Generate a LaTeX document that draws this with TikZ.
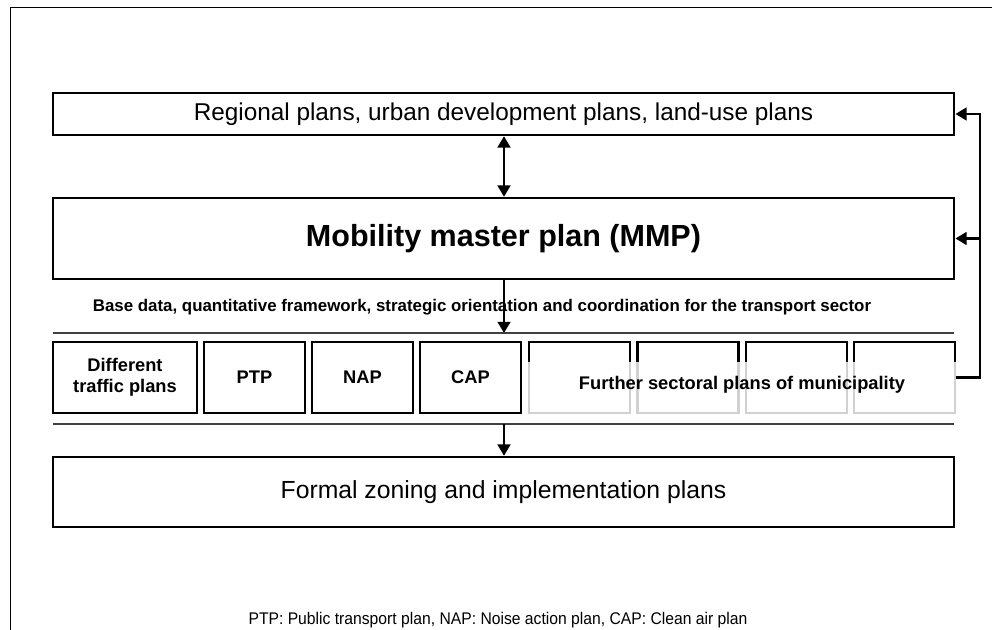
\documentclass[tikz,border=0pt]{standalone}
\usepackage{fontspec}
\setmainfont{Liberation Sans}
\newfontfamily\narrowfont[FakeStretch=0.93]{Liberation Sans}
\usetikzlibrary{arrows.meta}
\begin{document}
\begin{tikzpicture}[x=0.025cm,y=-0.025cm,
  plan/.style={draw, line width=1.8pt, inner sep=0pt, align=center},
  sub/.style={plan, minimum width=2.525cm, minimum height=1.775cm, font=\bfseries\fontsize{13}{15}\selectfont},
  link/.style={line width=1.8pt, -{Triangle[length=8pt,width=9pt]}}]
\useasboundingbox (0,0) rectangle (992,630);
\draw[line width=0.6pt] (10,630) -- (10,7) -- (992,7);
\node[plan, minimum width=22.525cm, minimum height=1.05cm, font=\fontsize{17.3}{20}\selectfont] (regional) at (503.5,114) {Regional plans, urban development plans, land-use plans};
\node[plan, minimum width=22.525cm, minimum height=2.025cm, font=\bfseries\fontsize{21.7}{25}\selectfont] (mmp) at (503.5,238.5) {Mobility master plan (MMP)};
\node[font=\bfseries\fontsize{12}{14}\selectfont] (base) at (482,307) {Base data, quantitative framework, strategic orientation and coordination for the transport sector};
\coordinate (upA) at (53,333);
\coordinate (upB) at (954,333);
\coordinate (loA) at (53,424);
\coordinate (loB) at (954,424);
\draw[line width=1pt, black!75] (upA) -- (upB);
\draw[line width=1pt, black!75] (loA) -- (loB);
\node[sub, minimum width=3.6cm] (traffic) at (125,377.5) {Different\\traffic plans};
\node[sub] (ptp) at (254.5,377.5) {PTP};
\node[sub] (nap) at (362.5,377.5) {NAP};
\node[sub] (cap) at (470.5,377.5) {CAP};
\node[sub] (sec1) at (579.5,377.5) {};
\node[sub] (sec2) at (688,377.5) {};
\node[sub] (sec3) at (796.5,377.5) {};
\node[sub] (sec4) at (904.5,377.5) {};
\node[fill=white, fill opacity=0.82, minimum width=10.875cm, minimum height=1.5cm, inner sep=0pt] (veil) at (742.5,392) {};
\node[font=\bfseries\fontsize{13}{15}\selectfont] (further) at (742,385) {Further sectoral plans of municipality};
\node[plan, minimum width=22.525cm, minimum height=1.75cm, font=\fontsize{17.6}{21}\selectfont] (formal) at (503.5,492) {Formal zoning and implementation plans};
\node[font=\narrowfont\fontsize{12}{14}\selectfont] (note) at (498,620) {PTP: Public transport plan, NAP: Noise action plan, CAP: Clean air plan};
\coordinate (mmpdown) at (504,333);
\coordinate (lodown) at (504,424);
\coordinate (back) at (980,377.5);
\draw[link, {Triangle[length=8pt,width=9pt]}-{Triangle[length=8pt,width=9pt]}] (regional.south -| 504,0) -- (mmp.north -| 504,0);
\draw[link] (mmp.south -| mmpdown) -- (mmpdown);
\draw[link] (lodown) -- (formal.north -| lodown);
\draw[link] (sec4.east) -- (back) -- (back |- regional.east) -- (regional.east);
\draw[link] (back |- mmp.east) -- (mmp.east);
\end{tikzpicture}
\end{document}
